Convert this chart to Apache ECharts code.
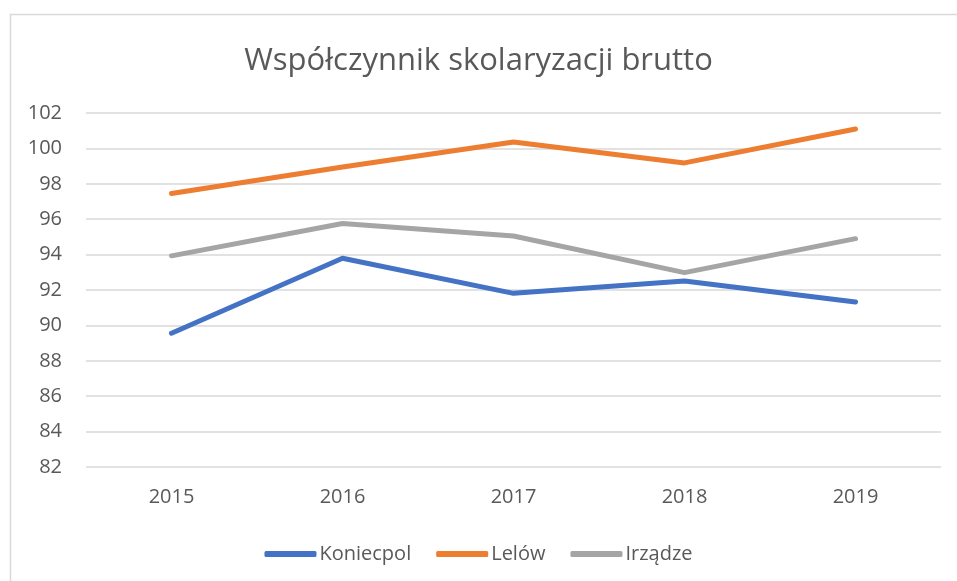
<!DOCTYPE html>
<html>
<head>
<meta charset="utf-8">
<title>Współczynnik skolaryzacji brutto</title>
<script src="https://cdn.jsdelivr.net/npm/echarts@6/dist/echarts.min.js"></script>
<style>
  html, body { margin: 0; padding: 0; background: #fff; }
  #chart { width: 957px; height: 581px; }
</style>
</head>
<body>
<div id="chart"></div>
<script>
// dane
const years = ["2015", "2016", "2017", "2018", "2019"];
const koniecpol = [89.56, 93.79, 91.81, 92.51, 91.32];
const lelow = [97.45, 98.95, 100.36, 99.18, 101.1];
const irzadze = [93.93, 95.76, 95.05, 92.98, 94.9];

const textColor = "#595959";
const font = "'Open Sans', 'Noto Sans', sans-serif";

const chart = echarts.init(document.getElementById("chart"), null, { renderer: "canvas" });

function lineSeries(name, data, color) {
  return {
    name: name,
    type: "line",
    data: data,
    symbol: "none",
    lineStyle: { width: 5, color: color, cap: "round", join: "round" },
    itemStyle: { color: color }
  };
}

const option = {
  backgroundColor: "#fff",
  animation: false,
  graphic: [{
    type: "rect",
    shape: { x: 10.5, y: 14.5, width: 1000, height: 1000 },
    style: { fill: "none", stroke: "#d9d9d9", lineWidth: 1.5 },
    silent: true
  }],
  title: {
    text: "Współczynnik skolaryzacji brutto",
    left: "center",
    top: 41,
    textStyle: { color: textColor, fontFamily: font, fontSize: 31, fontWeight: "normal" }
  },
  legend: {
    bottom: 12,
    left: "center",
    itemWidth: 52,
    itemHeight: 6,
    itemGap: 25,
    icon: "roundRect",
    textStyle: { color: textColor, fontFamily: font, fontSize: 20, padding: [0, 0, 0, -2] },
    data: ["Koniecpol", "Lelów", "Irządze"]
  },
  grid: { left: 86, right: 16, top: 113, bottom: 114, containLabel: false },
  xAxis: {
    type: "category",
    data: years,
    boundaryGap: true,
    axisLine: { show: false },
    axisTick: { show: false },
    axisLabel: { color: textColor, fontFamily: font, fontSize: 20, margin: 20 }
  },
  yAxis: {
    type: "value",
    min: 82,
    max: 102,
    interval: 2,
    axisLine: { show: false },
    axisTick: { show: false },
    axisLabel: { color: textColor, fontFamily: font, fontSize: 20, margin: 24 },
    splitLine: { lineStyle: { color: "#d9d9d9", width: 1.5 } }
  },
  series: [
    lineSeries("Koniecpol", koniecpol, "#4472c4"),
    lineSeries("Lelów", lelow, "#ed7d31"),
    lineSeries("Irządze", irzadze, "#a5a5a5")
  ]
};

chart.setOption(option);
</script>
</body>
</html>
